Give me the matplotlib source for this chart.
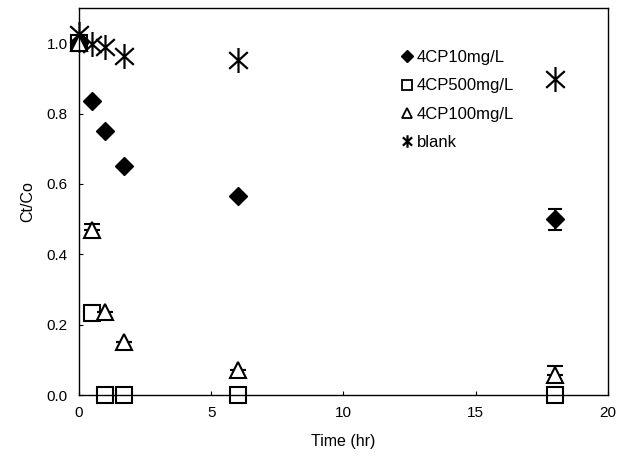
import numpy as np
import matplotlib.pyplot as plt
from matplotlib.path import Path
from matplotlib.lines import Line2D

plt.rcParams['font.family'] = ['Liberation Sans', 'DejaVu Sans']

# data
t = [0, 0.5, 1.0, 1.7, 6, 18]
cp10 = [1.0, 0.835, 0.75, 0.65, 0.565, 0.50]
cp10_err = [0, 0, 0, 0, 0, 0.03]
cp500 = [1.0, 0.234, 0.0, 0.0, 0.0, 0.0]
cp100 = [1.0, 0.47, 0.236, 0.152, 0.071, 0.057]
cp100_err = [0, 0.015, 0, 0, 0, 0.025]
blank = [1.025, 0.998, 0.99, 0.963, 0.952, 0.897]
labels = ['4CP10mg/L', '4CP500mg/L', '4CP100mg/L', 'blank']

# asterisk marker: vertical line plus an X
a = np.deg2rad(48)
sx, sy = np.sin(a), np.cos(a)
star = Path([(0, -1), (0, 1), (-sx, -sy), (sx, sy), (-sx, sy), (sx, -sy)],
            [Path.MOVETO, Path.LINETO, Path.MOVETO, Path.LINETO, Path.MOVETO, Path.LINETO])

fig = plt.figure(figsize=(6.29, 4.65), dpi=100)
ax = fig.add_axes([0.1256, 0.1505, 0.841, 0.8323])

ax.errorbar(t, cp10, yerr=cp10_err, fmt='D', color='black', ms=9, capsize=5,
            elinewidth=1.2, capthick=1.5, linestyle='none', clip_on=False)
ax.plot(t, cp500, 's', mfc='white', mec='black', mew=1.5, ms=11, linestyle='none', clip_on=False)
ax.errorbar(t, cp100, yerr=[np.zeros(len(cp100_err)), cp100_err], fmt='^', mfc='white', mec='black',
            mew=1.5, ms=11, color='black', capsize=6, capthick=1.5, elinewidth=1.2,
            linestyle='none', clip_on=False)
ax.plot(t, blank, marker=star, color='black', mew=1.6, ms=18, linestyle='none', clip_on=False)

ax.set_xlim(0, 20)
ax.set_ylim(0, 1.1)
ax.set_xticks([0, 5, 10, 15, 20])
ax.set_yticks([0.0, 0.2, 0.4, 0.6, 0.8, 1.0])
ax.set_yticklabels(['0.0', '0.2', '0.4', '0.6', '0.8', '1.0'])
ax.tick_params(direction='in', length=3, labelsize=11, pad=8)
ax.set_xlabel('Time (hr)', fontsize=11.5, labelpad=10)
ax.set_ylabel('Ct/Co', fontsize=11.5, labelpad=8)
for s in ax.spines.values():
    s.set_linewidth(1.0)

handles = [
    Line2D([], [], marker='D', color='black', ms=6, linestyle='none'),
    Line2D([], [], marker='s', mfc='white', mec='black', mew=1.3, ms=7, linestyle='none'),
    Line2D([], [], marker='^', mfc='white', mec='black', mew=1.3, ms=7, linestyle='none'),
    Line2D([], [], marker=star, color='black', mew=1.6, ms=9, linestyle='none'),
]
ax.legend(handles, labels, loc='upper left', bbox_to_anchor=(0.575, 0.93), frameon=False,
          fontsize=12, handletextpad=0.1, labelspacing=0.8, handlelength=1.0)

fig.savefig('out.png', dpi=100)
